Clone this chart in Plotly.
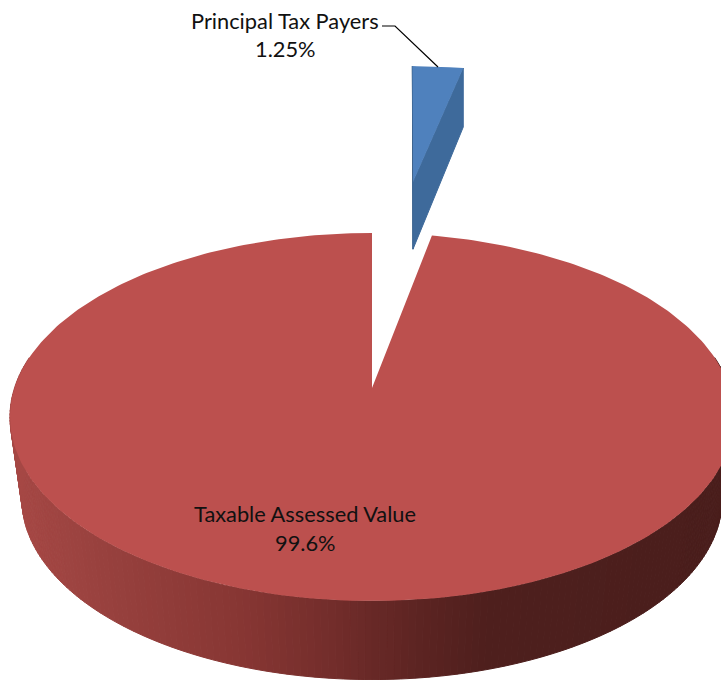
import numpy as np
import plotly.graph_objects as go

# Data
slice_names = ["Principal Tax Payers", "Taxable Assessed Value"]
slice_labels = ["1.25%", "99.6%"]
drawn_shares = [3.1, 96.9]  # share of the circle each wedge occupies as drawn

W, H = 721, 680
CX, CY = 372.0, 388.0
RX, RY = 357.5, 179.4
K = 0.1576
# base of the disc: slightly smaller than the top because it is further from the eye
TOP_MID_Y = 417.0
BASE_MID_Y = 499.0
BASE_SCALE_X = 0.967
BASE_SCALE_Y = 0.9815
BLUE_DEPTH = 82.0
BLUE_RADIUS = 1.10
BLUE_SHIFT = (0.14, -1.402)
BLUE_ROT = 0.9
BLUE_NARROW = 0.93


def project(u, v, depth=0.0):
    s = 1.0 / (1.0 - K * v)
    return CX + RX * u * s, CY + RY * v * s + depth * s


def base_of(x, y):
    return CX + (x - CX) * BASE_SCALE_X, BASE_MID_Y + (y - TOP_MID_Y) * BASE_SCALE_Y


def rim(theta_deg, radius=1.0, origin=(0.0, 0.0)):
    t = np.radians(theta_deg)
    return origin[0] + radius * np.sin(t), origin[1] - radius * np.cos(t)


def hexmix(stops, x):
    xs = [p[0] for p in stops]
    out = [np.interp(x, xs, [p[1][i] for p in stops]) for i in range(3)]
    return "rgb(%d,%d,%d)" % tuple(int(round(c)) for c in out)


side_stops = [
    (10, (166, 72, 69)), (100, (152, 65, 62)), (240, (135, 54, 51)),
    (330, (115, 45, 43)), (420, (92, 36, 34)), (490, (78, 31, 29)), (721, (74, 30, 28)),
]

fig = go.Figure()


def poly(xs, ys, color, line=True):
    fig.add_trace(go.Scatter(
        x=list(xs), y=list(ys), mode="lines", fill="toself", fillcolor=color,
        line=dict(color=color, width=1 if line else 0),
        hoverinfo="skip", showlegend=False,
    ))


blue_sweep = drawn_shares[0] * 3.6
red_start = blue_sweep

# Taxable Assessed Value: side wall, strip by strip around the near half
thetas = np.arange(80.0, 280.01, 1.0)
for a, b in zip(thetas[:-1], thetas[1:]):
    xa, ya = project(*rim(a))
    xb, yb = project(*rim(b))
    xa2, ya2 = base_of(xa, ya)
    xb2, yb2 = base_of(xb, yb)
    poly([xa, xb, xb2, xa2, xa], [ya, yb, yb2, ya2, ya], hexmix(side_stops, (xa + xb) / 2))

# Taxable Assessed Value: top face
t_red = np.linspace(red_start, 360.0, 361)
px, py = zip(*[project(*rim(t)) for t in t_red])
poly([CX] + list(px) + [CX], [CY] + list(py) + [CY], "#BC504E", line=False)

# Principal Tax Payers: exploded wedge
t_blue = np.linspace(BLUE_ROT, BLUE_ROT + blue_sweep * BLUE_NARROW, 12)
apex = BLUE_SHIFT
ax, ay = project(*apex)
ax2, ay2 = project(*apex, BLUE_DEPTH)
ruL = rim(t_blue[0], BLUE_RADIUS, apex)
ruR = rim(t_blue[-1], BLUE_RADIUS, apex)
lx, ly = project(*ruL)
lx2, ly2 = project(*ruL, BLUE_DEPTH)
rx, ry = project(*ruR)
rx2, ry2 = project(*ruR, BLUE_DEPTH)
poly([ax, lx, lx2, ax2, ax], [ay, ly, ly2, ay2, ay], "#35597F")
poly([ax, rx, rx2, ax2, ax], [ay, ry, ry2, ay2, ay], "#3E6A9B")
bx, by = zip(*[project(*rim(t, BLUE_RADIUS, apex)) for t in t_blue])
poly([ax] + list(bx) + [ax], [ay] + list(by) + [ay], "#4F81BD", line=False)

# Leader line
fig.add_trace(go.Scatter(
    x=[382, 395, 438], y=[26, 26, 67], mode="lines",
    line=dict(color="#000000", width=1.2), hoverinfo="skip", showlegend=False,
))

FONT = dict(family="Lato, Carlito, sans-serif", size=21.8, color="#111111")
label_pos = [(285, 20, 48), (305, 513, 542)]
for name, pct, (x, y1, y2) in zip(slice_names, slice_labels, label_pos):
    fig.add_annotation(x=x, y=y1, text=name, showarrow=False, font=FONT, xanchor="center", yanchor="middle")
    fig.add_annotation(x=x, y=y2, text=pct, showarrow=False, font=FONT, xanchor="center", yanchor="middle")

fig.update_layout(
    width=W, height=H, margin=dict(l=0, r=0, t=0, b=0),
    paper_bgcolor="#FFFFFF", plot_bgcolor="#FFFFFF", showlegend=False,
    xaxis=dict(range=[0, W], visible=False, fixedrange=True),
    yaxis=dict(range=[H, 0], visible=False, fixedrange=True),
)
fig.write_html(
    "out.html",
    config={"displayModeBar": False},
    post_script="document.body.style.margin='0';document.body.style.overflow='hidden';",
)
